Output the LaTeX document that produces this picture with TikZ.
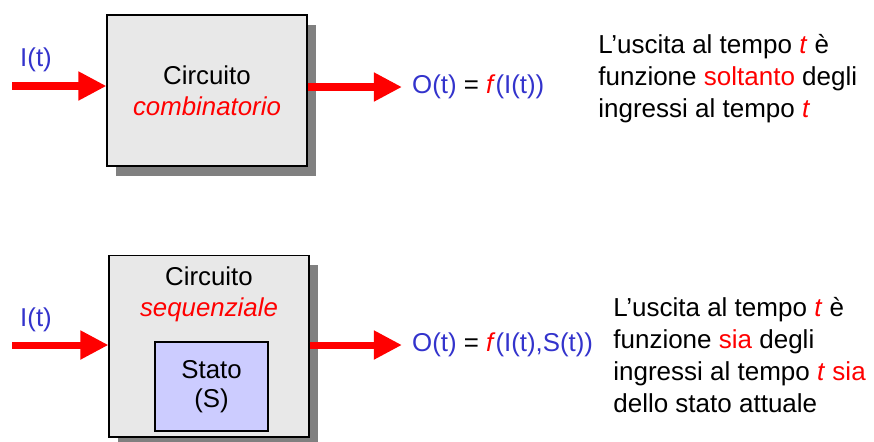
\documentclass[tikz,border=0pt]{standalone}
\usepackage{fontspec}
\setmainfont{Liberation Sans}
\usepackage{xcolor}
\usetikzlibrary{arrows.meta,shadows}

\definecolor{ioblue}{RGB}{51,51,204}
\definecolor{boxgray}{RGB}{232,232,232}
\definecolor{statoblue}{RGB}{204,204,255}

\tikzset{
  bigarrow/.style={draw=red, line width=4pt, -{Triangle[length=16pt,width=15.5pt]}},
  blockbox/.style={draw=black, line width=0.6pt, fill=boxgray, minimum width=4cm,
    drop shadow={shadow xshift=0.18cm, shadow yshift=-0.2cm, fill=black!50, opacity=1}},
  txt/.style={inner sep=0pt, font=\fontsize{14.7}{17.6}\selectfont},
}

\begin{document}
\begin{tikzpicture}[x=0.02cm, y=-0.02cm]
	\useasboundingbox (0,0) rectangle (874,441);

	% blocchi
	\node[blockbox, minimum height=3.02cm, txt, align=center] (comb) at (207,90.5)
		{Circuito\\\textcolor{red}{\textit{combinatorio}}};
	\node[blockbox, minimum height=3.64cm] (seq) at (209,346) {};
	\node[txt, align=center] (seqname) at (209,294.5)
		{Circuito\\\textcolor{red}{\textit{sequenziale}}};
	\node[draw=black, line width=0.6pt, fill=statoblue, minimum width=2.26cm, minimum height=1.78cm,
		txt, align=center, font=\fontsize{14.7}{16.6}\selectfont] (stato) at (211.5,386.5) {Stato\\(S)};

	% ingressi
	\foreach \y/\b/\l [count=\q] in {86/comb/60, 345/seq/319.5} {
		\coordinate (in\q) at (12,\y);
		\node[txt, text=ioblue] (lab\q) at (36,\l) {I(t)};
		\draw[bigarrow] (in\q) -- (in\q -| \b.west);
	}

	% uscite
	\node[txt, anchor=west, inner xsep=5.6pt] (outA) at (402,87)
		{\textcolor{ioblue}{O(t)} = \textcolor{red}{\textit{f}}\textcolor{ioblue}{(I(t))}};
	\node[txt, anchor=west, inner xsep=5.6pt] (outB) at (402,345)
		{\textcolor{ioblue}{O(t)} = \textcolor{red}{\textit{f}}\textcolor{ioblue}{(I(t),S(t))}};
	\draw[bigarrow] (comb.east |- outA.west) -- (outA.west);
	\draw[bigarrow] (seq.east |- outB.west) -- (outB.west);

	% spiegazioni
	\node[txt, anchor=north west, align=left, font=\fontsize{14.8}{18.1}\selectfont] (noteA) at (598,34)
		{L’uscita al tempo \textcolor{red}{\textit{t}} è\\
		 funzione \textcolor{red}{soltanto} degli\\
		 ingressi al tempo \textcolor{red}{\textit{t}}};
	\node[txt, anchor=north west, align=left, font=\fontsize{14.8}{18.3}\selectfont] (noteB) at (613,297)
		{L’uscita al tempo \textcolor{red}{\textit{t}} è\\
		 funzione \textcolor{red}{sia} degli\\
		 ingressi al tempo \textcolor{red}{\textit{t} sia}\\
		 dello stato attuale};
\end{tikzpicture}
\end{document}
